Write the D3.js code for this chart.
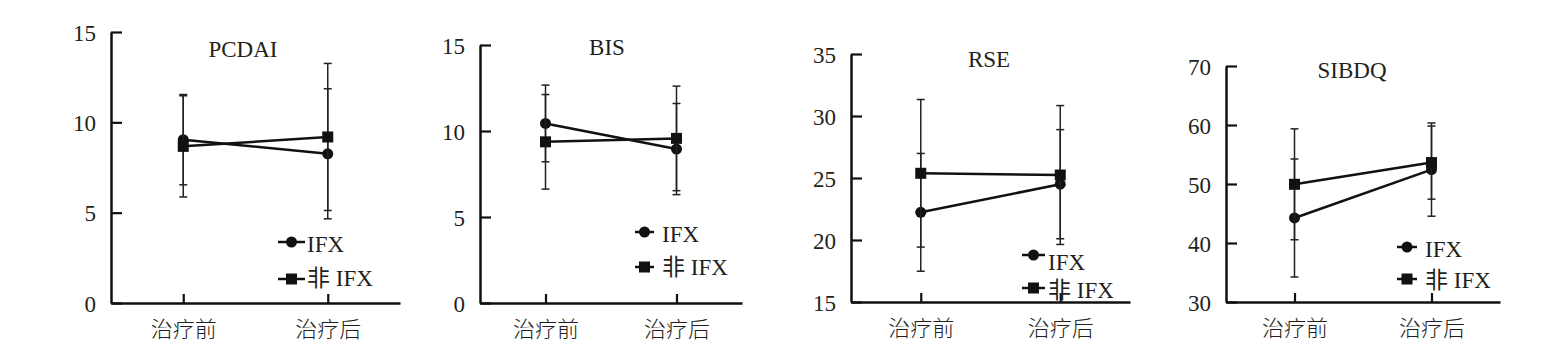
<!DOCTYPE html>
<html lang="zh">
<head>
<meta charset="utf-8">
<title>IFX</title>
<script src="https://cdn.jsdelivr.net/npm/d3@7"></script>
<style>
  body { margin: 0; background: #fff; }
  text { fill: #231f20; }
</style>
</head>
<body>
<svg width="1543" height="353"></svg>
<script>
// data
const categories = ["治疗前", "治疗后"];
const titles = ["PCDAI", "BIS", "RSE", "SIBDQ"];
const seriesNames = ["IFX", "非 IFX"];
const yDomains = [[0, 15], [0, 15], [15, 35], [30, 70]];
const yTicks = [[0, 5, 10, 15], [0, 5, 10, 15], [15, 20, 25, 30, 35], [30, 40, 50, 60, 70]];
const ifxMean = [[9.04, 8.26], [10.44, 8.95], [22.23, 24.5], [44.24, 52.44]];
const ifxSd = [[2.5, 3.6], [2.23, 2.65], [4.75, 4.4], [10.0, 7.9]];
const nonMean = [[8.67, 9.19], [9.37, 9.57], [25.38, 25.24], [49.95, 53.63]];
const nonSd = [[2.8, 4.07], [2.75, 3.04], [5.95, 5.6], [9.4, 6.2]];

// layout of each panel (pixels)
const panels = [
  {x0: 111, x1: 400, yTop: 32, yBot: 303, tx: 243, ty: 57, lx: 278, ly: 242, ll: 27, lg: 37, lt: 307, ldy: [2, -1]},
  {x0: 480, x1: 742, yTop: 45, yBot: 303, tx: 607, ty: 55, lx: 635, ly: 232, ll: 19, lg: 35, lt: 662, ldy: [2, 0]},
  {x0: 851, x1: 1130, yTop: 54, yBot: 302, tx: 989, ty: 67, lx: 1022, ly: 255, ll: 23, lg: 33, lt: 1048, ldy: [7, 2]},
  {x0: 1226, x1: 1500, yTop: 66, yBot: 302, tx: 1352, ty: 78, lx: 1397, ly: 247, ll: 20, lg: 32, lt: 1425, ldy: [2, 1]}
];

const svg = d3.select("svg");
const serif = "'Liberation Serif', 'Times New Roman', serif";
const cjk = "'Liberation Serif', 'Noto Sans CJK SC', serif";

panels.forEach(function (p, i) {
  const x = d3.scalePoint().domain(categories).range([p.x0, p.x1]).padding(0.5);
  const y = d3.scaleLinear().domain(yDomains[i]).range([p.yBot, p.yTop]);
  const g = svg.append("g");

  // axes
  const ya = g.append("g")
      .attr("transform", "translate(" + p.x0 + ",0)")
      .call(d3.axisLeft(y).tickValues(yTicks[i]).tickSize(-11).tickSizeOuter(0).tickPadding(15));
  const xa = g.append("g")
      .attr("transform", "translate(0," + p.yBot + ")")
      .call(d3.axisBottom(x).tickSize(-9).tickSizeOuter(0).tickPadding(18));
  [ya, xa].forEach(function (a) {
    a.attr("font-size", null).attr("font-family", null);
    a.select(".domain").attr("stroke", "#111").attr("stroke-width", 2.5);
    a.selectAll(".tick line").attr("stroke", "#111").attr("stroke-width", 2.2);
    a.selectAll(".tick text").attr("fill", "#231f20");
  });
  ya.selectAll(".tick text").attr("font-family", serif).attr("font-size", 23).attr("dy", "0.36em");
  xa.selectAll(".tick text").attr("font-family", "'Noto Sans CJK SC', sans-serif")
      .attr("font-size", 22).attr("font-weight", 300);

  // title
  g.append("text").attr("x", p.tx).attr("y", p.ty).attr("text-anchor", "middle")
      .attr("font-family", serif).attr("font-size", 23).text(titles[i]);

  const series = [
    {mean: ifxMean[i], sd: ifxSd[i], shape: "circle"},
    {mean: nonMean[i], sd: nonSd[i], shape: "square"}
  ];

  series.forEach(function (s) {
    const pts = categories.map(function (c, j) { return {c: c, m: s.mean[j], sd: s.sd[j]}; });
    // error bars
    const eb = g.append("g").attr("stroke", "#222").attr("stroke-width", 1.5);
    pts.forEach(function (d) {
      const cx = x(d.c);
      eb.append("line").attr("x1", cx).attr("x2", cx).attr("y1", y(d.m - d.sd)).attr("y2", y(d.m + d.sd));
      [d.m - d.sd, d.m + d.sd].forEach(function (v) {
        eb.append("line").attr("x1", cx - 4).attr("x2", cx + 4).attr("y1", y(v)).attr("y2", y(v));
      });
    });
    // line
    g.append("path").datum(pts)
        .attr("fill", "none").attr("stroke", "#111").attr("stroke-width", 2.5)
        .attr("d", d3.line().x(function (d) { return x(d.c); }).y(function (d) { return y(d.m); }));
    // markers
    pts.forEach(function (d) {
      if (s.shape === "circle") {
        g.append("circle").attr("cx", x(d.c)).attr("cy", y(d.m)).attr("r", 5.5).attr("fill", "#111");
      } else {
        g.append("rect").attr("x", x(d.c) - 5.5).attr("y", y(d.m) - 5.5).attr("width", 11).attr("height", 11).attr("fill", "#111");
      }
    });
  });

  // legend
  seriesNames.forEach(function (name, k) {
    const ly = p.ly + k * p.lg;
    const lg = g.append("g");
    lg.append("line").attr("x1", p.lx).attr("x2", p.lx + p.ll).attr("y1", ly).attr("y2", ly)
        .attr("stroke", "#111").attr("stroke-width", 2.5);
    const mx = p.lx + p.ll / 2;
    if (k === 0) {
      lg.append("circle").attr("cx", mx).attr("cy", ly).attr("r", 5.5).attr("fill", "#111");
    } else {
      lg.append("rect").attr("x", mx - 5.5).attr("y", ly - 5.5).attr("width", 11).attr("height", 11).attr("fill", "#111");
    }
    lg.append("text").attr("x", p.lt).attr("y", ly + p.ldy[k]).attr("dy", "0.36em")
        .attr("font-family", cjk).attr("font-size", 23).text(name);
  });
});
</script>
</body>
</html>
